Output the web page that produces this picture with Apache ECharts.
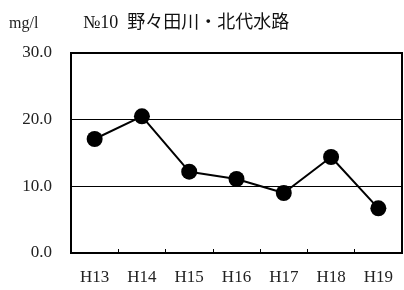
<!DOCTYPE html>
<html>
<head>
<meta charset="utf-8">
<script src="https://cdn.jsdelivr.net/npm/echarts@6/dist/echarts.min.js"></script>
<style>
html, body { margin: 0; padding: 0; background: #fff; }
#draw { width: 404px; height: 290px; }
</style>
</head>
<body>
<div id="draw"></div>
<script>
// 年度
var years = ["H13", "H14", "H15", "H16", "H17", "H18", "H19"];
// mg/l
var values = [17.1, 20.5, 12.2, 11.1, 9.0, 14.4, 6.7];
var yTicks = [0, 10, 20, 30];

var serif = '"Liberation Serif", "DejaVu Serif", "Noto Sans CJK JP", serif';

var chart = echarts.init(document.getElementById("draw"));
var option = {
  animation: false,
  backgroundColor: "#fff",
  title: {
    text: "№10  野々田川・北代水路",
    left: 78,
    top: 9,
    textStyle: {
      fontFamily: serif,
      fontSize: 18,
      fontWeight: "normal",
      color: "#111",
    },
  },
  graphic: [
    {
      type: "text",
      left: 9,
      top: 16,
      style: {
        text: "mg/l",
        font: "16px " + serif,
        fill: "#222",
      },
    },
  ],
  grid: {
    left: 71,
    right: 2,
    top: 53,
    bottom: 37,
    show: true,
    borderColor: "#000",
    borderWidth: 2,
  },
  xAxis: {
    type: "category",
    data: years,
    boundaryGap: true,
    axisLine: { show: true, lineStyle: { color: "#000", width: 2 } },
    axisTick: {
      show: true,
      inside: true,
      length: 4,
      lineStyle: { color: "#000", width: 1 },
    },
    axisLabel: {
      margin: 16,
      fontFamily: serif,
      fontSize: 17,
      color: "#222",
    },
    splitLine: { show: false },
  },
  yAxis: {
    type: "value",
    min: yTicks[0],
    max: yTicks[yTicks.length - 1],
    interval: 10,
    axisLine: { show: true, lineStyle: { color: "#000", width: 2 } },
    axisTick: { show: false },
    axisLabel: {
      margin: 19,
      fontFamily: serif,
      fontSize: 17,
      color: "#222",
      formatter: function (v) {
        return v.toFixed(1);
      },
    },
    splitLine: { show: true, lineStyle: { color: "#000", width: 1 } },
  },
  series: [
    {
      type: "line",
      data: values,
      symbol: "circle",
      symbolSize: 16,
      itemStyle: { color: "#000" },
      lineStyle: { color: "#000", width: 2 },
    },
  ],
};
chart.setOption(option);
</script>
</body>
</html>
